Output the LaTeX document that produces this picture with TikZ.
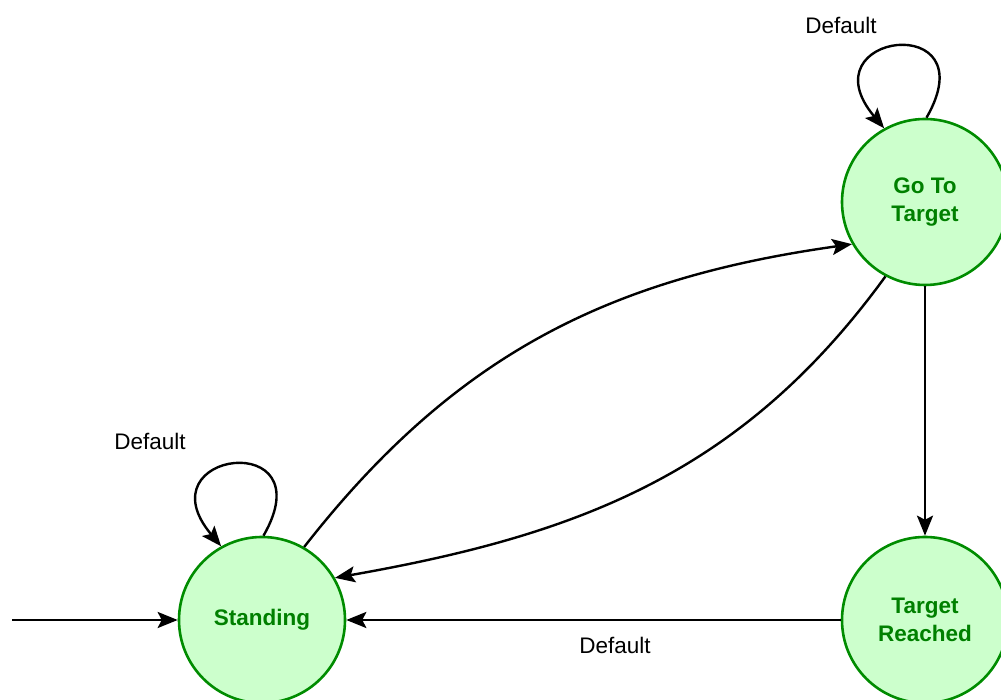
\documentclass[tikz,border=0pt]{standalone}
\usepackage{fontspec}
\setmainfont{Liberation Sans}
\usetikzlibrary{arrows.meta}
\definecolor{stateline}{RGB}{0,140,0}
\definecolor{statefill}{RGB}{204,255,204}
\definecolor{statetext}{RGB}{0,128,0}
\tikzset{
    state/.style={circle, draw=stateline, fill=statefill, line width=2.6pt,
    	minimum size=166pt, inner sep=0pt, align=center,
    	text=statetext, font=\fontsize{22.5}{28}\selectfont\bfseries}
}
\tikzset{
    trans/.style={line width=2.4pt,
    	-{Stealth[length=20pt, width=16pt, inset=4pt]}}
}
\tikzset{
    selfloop/.style={trans, out=60, in=130, distance=125pt}
}
\tikzset{
    edgelabel/.style={font=\fontsize{22.5}{27}\selectfont}
}

\begin{document}
\begin{tikzpicture}[x=1pt, y=1pt]
	\useasboundingbox (0,0) rectangle (1001,700);
	\node (stand) [state] at (262, 80) {Standing};
	\node (go) [state] at (925, 498) {Go To\\Target};
	\node (reach) [state] at (925, 80) {Target\\Reached};
	\coordinate (init) at (12, 80);
	\node (l1) [edgelabel] at (150, 259) {Default};
	\node (l2) [edgelabel] at (841, 675) {Default};
	\node (l3) [edgelabel] at (615, 55) {Default};

	\draw [trans] (init) -- (stand.west);
	\draw [selfloop] (stand.89) to (stand.119);
	\draw [selfloop] (go.89) to (go.119);
	\draw [trans] (stand.60) to[out=52, in=188] (go.210);
	\draw [trans] (go.-118) to[out=234, in=10] (stand.30);
	\draw [trans] (go.south) -- (reach.north);
	\draw [trans] (reach.west) -- (stand.east);
\end{tikzpicture}
\end{document}
